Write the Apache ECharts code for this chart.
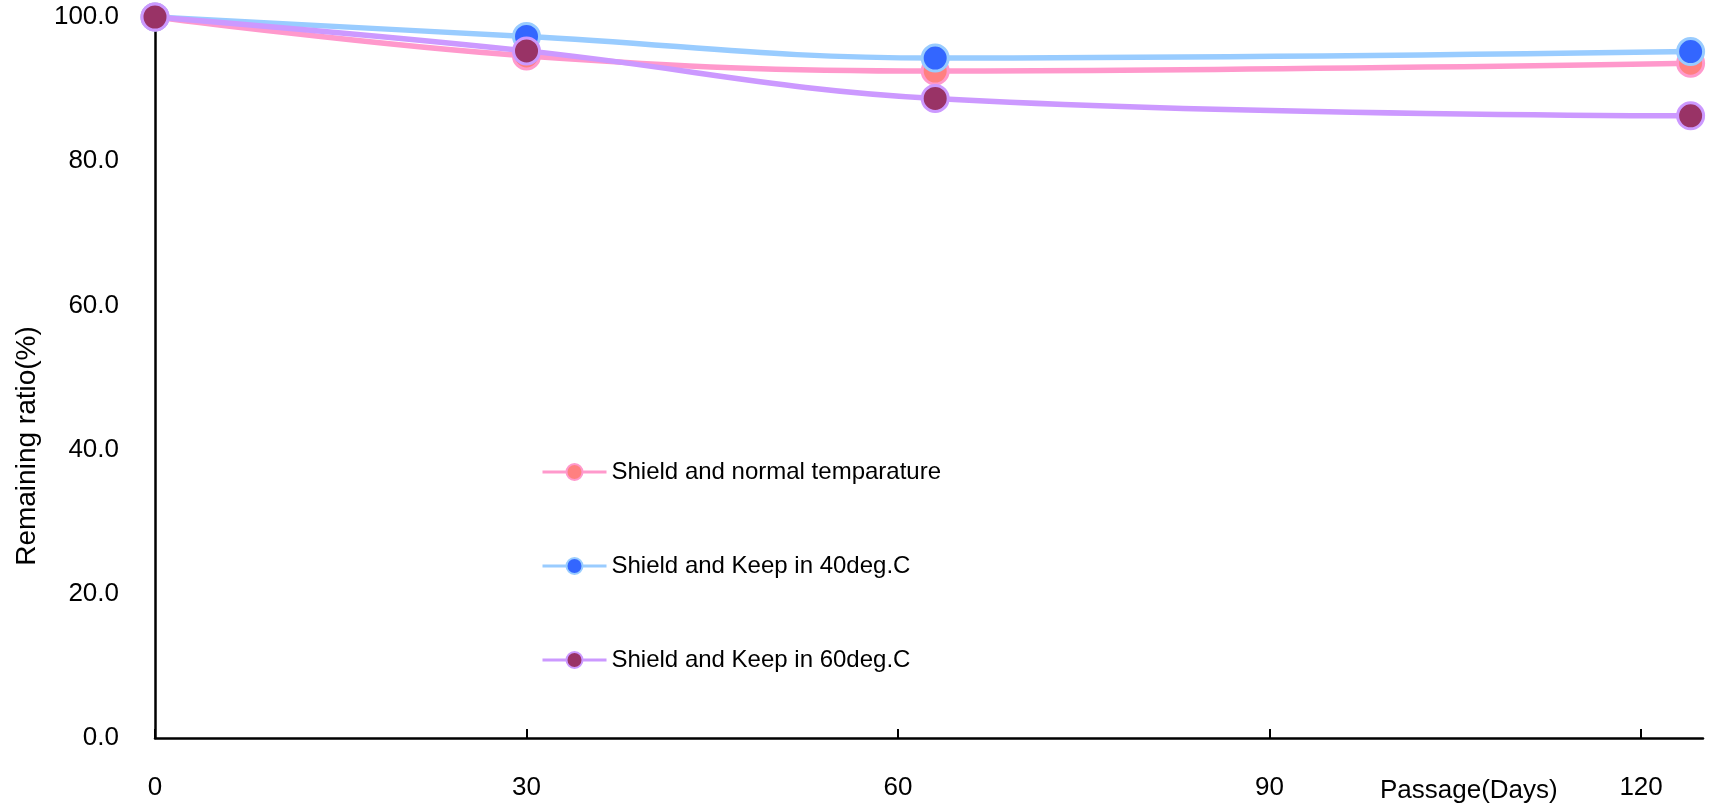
<!DOCTYPE html>
<html>
<head>
<meta charset="utf-8">
<script src="https://cdn.jsdelivr.net/npm/echarts@6/dist/echarts.min.js"></script>
<style>
html,body{margin:0;padding:0;background:#fff;}
#chart{width:1710px;height:809px;}
</style>
</head>
<body>
<div id="chart"></div>
<script>
const days = [0, 30, 63, 124];
const normalTemp = [100.0, 94.6, 92.5, 93.6];
const keep40 = [100.0, 97.3, 94.3, 95.2];
const keep60 = [100.0, 95.3, 88.7, 86.3];
const seriesNames = ['Shield and normal temparature', 'Shield and Keep in 40deg.C', 'Shield and Keep in 60deg.C'];
const xTicks = [0, 30, 60, 90, 120];
const yTicks = [0, 20, 40, 60, 80, 100];

const FONT = '"Liberation Sans", Arial, sans-serif';

function pairs(xs, ys) { return xs.map((x, i) => [x, ys[i]]); }

const styles = [
  { line: '#FF99CC', fill: '#FF8080' },
  { line: '#99CCFF', fill: '#3366FF' },
  { line: '#CC99FF', fill: '#993366' }
];
const values = [normalTemp, keep40, keep60];

const chart = echarts.init(document.getElementById('chart'));
chart.setOption({
  animation: false,
  backgroundColor: '#fff',
  grid: { left: 155, right: 7, top: 17, bottom: 71 },
  xAxis: {
    type: 'value', min: 0, max: 125,
    axisLine: { show: true, lineStyle: { color: '#000', width: 2.5 } },
    axisTick: { show: true, inside: true, length: 9, customValues: xTicks, lineStyle: { color: '#000', width: 2 } },
    axisLabel: { customValues: xTicks, color: '#000', fontSize: 26, fontFamily: FONT, margin: 37 },
    splitLine: { show: false }
  },
  yAxis: {
    type: 'value', min: 0, max: 100, interval: 20,
    axisLine: { show: true, lineStyle: { color: '#000', width: 2.5 } },
    axisTick: { show: false },
    axisLabel: { color: '#000', fontSize: 26, fontFamily: FONT, margin: 36, formatter: v => v.toFixed(1) },
    splitLine: { show: false }
  },
  legend: {
    orient: 'vertical', left: 536, top: 455,
    itemWidth: 64, itemHeight: 20, itemGap: 70,
    textStyle: { color: '#000', fontSize: 24, fontFamily: FONT, padding: [6, 0, 0, 0] },
    lineStyle: { width: 3 },
    data: seriesNames
  },
  graphic: [
    { type: 'text', x: 27, y: 446, rotation: Math.PI / 2,
      style: { text: 'Remaining ratio(%)', font: '28px ' + FONT, fill: '#000', align: 'center', verticalAlign: 'middle' } },
    { type: 'text', left: 1380, top: 778,
      style: { text: 'Passage(Days)', font: '26px ' + FONT, fill: '#000' } }
  ],
  series: seriesNames.map((name, i) => ({
    name, type: 'line', smooth: 0.4,
    data: pairs(days, values[i]),
    symbol: 'circle', symbolSize: 26,
    lineStyle: { color: styles[i].line, width: 5.5 },
    itemStyle: { color: styles[i].fill, borderColor: styles[i].line, borderWidth: 3 },
    z: 2 + i
  }))
});
</script>
</body>
</html>
